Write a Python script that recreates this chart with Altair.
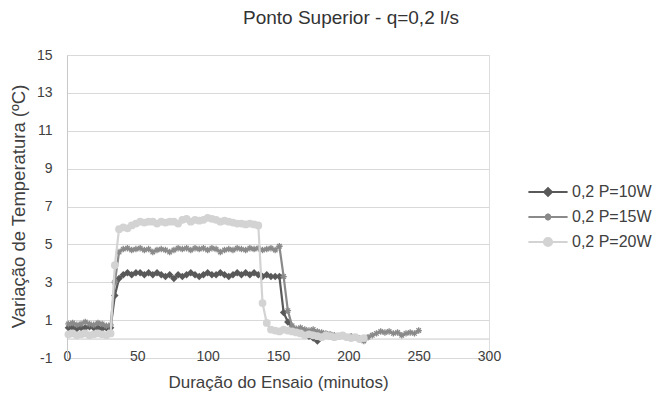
import altair as alt
import pandas as pd

# Sampling instants (minutes) shared by the three runs
MINUTES = [1, 4, 7, 10, 13, 16, 19, 22, 25, 28, 31, 34, 37, 40, 43, 46, 49, 52, 55, 58,
           61, 64, 67, 70, 73, 76, 79, 82, 85, 88, 91, 94, 97, 100, 103, 106, 109, 112, 115, 118,
           121, 124, 127, 130, 133, 136, 139, 142, 145, 148, 151, 154, 157, 160, 163, 166, 169, 172, 175, 178,
           181, 184, 187, 190, 193, 196, 199, 202, 205, 208, 211, 214, 217, 220, 223, 226, 229, 232, 235, 238,
           241, 244, 247, 250]

# Temperature rise (ºC) for each heating power
P10 = [0.6, 0.6, 0.55, 0.6, 0.6, 0.65, 0.6, 0.6, 0.55, 0.6, 0.6, 2.3, 3.2, 3.4, 3.5, 3.4, 3.5, 3.5, 3.4, 3.5,
       3.4, 3.5, 3.4, 3.3, 3.4, 3.2, 3.4, 3.3, 3.4, 3.5, 3.4, 3.3, 3.4, 3.5, 3.4, 3.4, 3.5, 3.4, 3.3, 3.4,
       3.5, 3.4, 3.5, 3.4, 3.5, 3.4, 3.3, 3.4, 3.3, 3.3, 3.3, 1.4, 0.9, 0.6, 0.45, 0.35, 0.25, 0.15, 0.05, -0.1,
       0.1]
P15 = [0.8, 0.85, 0.75, 0.8, 0.9, 0.8, 0.75, 0.85, 0.8, 0.7, 0.75, 3.0, 4.6, 4.75, 4.8, 4.7, 4.75, 4.8, 4.7, 4.75,
       4.6, 4.7, 4.75, 4.7, 4.6, 4.7, 4.8, 4.75, 4.8, 4.7, 4.8, 4.75, 4.8, 4.7, 4.8, 4.75, 4.6, 4.7, 4.75, 4.7,
       4.8, 4.75, 4.7, 4.8, 4.75, 4.8, 4.7, 4.75, 4.8, 4.7, 4.9, 3.3, 1.5, 0.7, 0.55, 0.6, 0.5, 0.45, 0.5, 0.4,
       0.35, 0.3, 0.25, 0.2, 0.15, 0.2, 0.1, 0.15, 0.1, 0.05, -0.1, 0.1, 0.2, 0.3, 0.4, 0.35, 0.4, 0.3, 0.35, 0.2,
       0.3, 0.35, 0.3, 0.45]
P20 = [0.25, 0.3, 0.2, 0.25, 0.3, 0.2, 0.25, 0.3, 0.25, 0.2, 0.3, 3.9, 5.8, 5.9, 5.85, 6.0, 6.1, 6.2, 6.15, 6.2,
       6.2, 6.1, 6.2, 6.15, 6.2, 6.2, 6.1, 6.3, 6.35, 6.2, 6.3, 6.25, 6.3, 6.4, 6.35, 6.3, 6.2, 6.25, 6.2, 6.15,
       6.1, 6.1, 6.05, 6.1, 6.05, 6.0, 1.9, 0.85, 0.5, 0.45, 0.4, 0.5, 0.45, 0.4, 0.35, 0.3, 0.2, 0.25, 0.2, 0.15,
       0.1, 0.2, 0.15, 0.1, 0.15, 0.2, 0.1, 0.05, 0.1, 0.0, 0.05]

SERIES = ["0,2 P=10W", "0,2 P=15W", "0,2 P=20W"]
COLORS = ["#595959", "#8a8a8a", "#d3d3d3"]
Y_TICKS = [-1, 1, 3, 5, 7, 9, 11, 13, 15]
X_TICKS = [0, 50, 100, 150, 200, 250, 300]

rows = []
for name, vals in zip(SERIES, [P10, P15, P20]):
    for t, v in zip(MINUTES, vals):
        rows.append({"series": name, "minutes": t, "value": v})
df = pd.DataFrame(rows)

FONT = "Liberation Sans"
TXT = "#404040"

ASTERISK = "M-1,0L1,0M0,-1L0,1M-0.7,-0.7L0.7,0.7M-0.7,0.7L0.7,-0.7"

# Legend glyphs: a short line segment with the series marker in the middle
LEG_LINE = "M-4.9,0L4.9,0"
LEG_SHAPES = [
    LEG_LINE + "M0,-0.95L0.95,0L0,0.95L-0.95,0Z",
    LEG_LINE + "M-0.85,0L0.85,0M0,-0.85L0,0.85M-0.6,-0.6L0.6,0.6M-0.6,0.6L0.6,-0.6",
    LEG_LINE + "M-1,0A1,1,0,1,0,1,0A1,1,0,1,0,-1,0Z",
]

x_enc = alt.X(
    "minutes:Q",
    scale=alt.Scale(domain=[0, 300], nice=False, zero=False),
    axis=alt.Axis(
        values=X_TICKS, grid=False, domain=False, ticks=False, tickSize=0,
        labelPadding=-2, labelBaseline="middle", labelFont=FONT, labelFontSize=14,
        labelColor=TXT, labelOverlap=False, labelFlush=False, labelBound=False,
        title="Duração do Ensaio (minutos)",
        titleFont=FONT, titleFontSize=17, titleFontWeight="normal", titleColor=TXT,
        titleY=24, titleBaseline="middle",
    ),
)
y_enc = alt.Y(
    "value:Q",
    scale=alt.Scale(domain=[-1, 15], nice=False, zero=False),
    axis=alt.Axis(
        values=Y_TICKS, grid=True, gridColor="#d9d9d9", gridWidth=1,
        domain=True, domainColor="#c8c8c8", ticks=False, tickSize=0,
        labelPadding=15, labelFont=FONT, labelFontSize=14, labelColor=TXT,
        labelOverlap=False, labelBound=False, labelExpr="'' + datum.value",
        title="Variação de Temperatura (ºC)", titleFont=FONT, titleFontSize=18.5,
        titleFontWeight="normal", titleColor=TXT, titleX=-49, titleY=151,
        titleBaseline="middle", titleAngle=-90,
    ),
)

base = alt.Chart(df)

# Horizontal axis line crossing at zero
zero_rule = alt.Chart(pd.DataFrame({"value": [0]})).mark_rule(
    color="#c8c8c8", strokeWidth=1
).encode(y=y_enc)

marker_specs = [
    dict(shape="diamond", filled=True, size=55, strokeWidth=0),
    dict(shape=ASTERISK, filled=False, size=42, strokeWidth=1.3),
    dict(shape="circle", filled=True, size=60, strokeWidth=0),
]

layers = [zero_rule]
for name, color, spec in zip(SERIES, COLORS, marker_specs):
    sub = base.transform_filter(alt.datum.series == name)
    layers.append(sub.mark_line(color=color, strokeWidth=2.2).encode(x=x_enc, y=y_enc))
    layers.append(sub.mark_point(color=color, opacity=1, **spec).encode(x=x_enc, y=y_enc))

legend_def = alt.Legend(
    title=None, orient="none", legendX=473, legendY=129, padding=0,
    labelFont=FONT, labelFontSize=16, labelColor=TXT, labelOffset=16,
    rowPadding=8, symbolSize=64, symbolStrokeWidth=2.2,
)
legend_layer = base.transform_filter("false").mark_point(filled=True, opacity=1).encode(
    x=x_enc, y=y_enc,
    fill=alt.Fill("series:N", scale=alt.Scale(domain=SERIES, range=COLORS), legend=legend_def),
    stroke=alt.Stroke("series:N", scale=alt.Scale(domain=SERIES, range=COLORS), legend=legend_def),
    shape=alt.Shape("series:N", scale=alt.Scale(domain=SERIES, range=LEG_SHAPES), legend=legend_def),
)
layers.append(legend_layer)

chart = alt.layer(*layers).properties(
    width=422, height=303,
    autosize=alt.AutoSizeParams(type="none"),
    padding={"left": 67, "top": 55, "right": 172, "bottom": 38},
    title=alt.TitleParams(
        text="Ponto Superior - q=0,2 l/s", font=FONT, fontSize=19, fontWeight="normal",
        color="#333333", anchor="middle", dx=73, offset=20,
    ),
).configure_view(stroke=None).configure(background="white")

chart.save("out.html", embed_options={"renderer": "svg", "actions": False})
